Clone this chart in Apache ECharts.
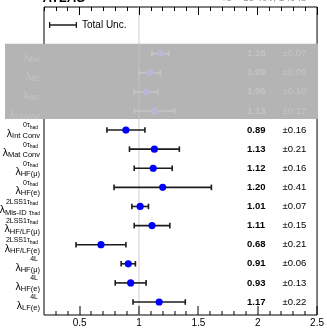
<!DOCTYPE html>
<html><head><meta charset="utf-8">
<script src="https://cdn.jsdelivr.net/npm/echarts@6/dist/echarts.min.js"></script>
<style>html,body{margin:0;padding:0;background:#fff}#c{width:327px;height:328px}</style>
</head><body><div id="c"></div><script>
// ---- data ----
const supMain = ['', '', '', '', '0τ', '0τ', '0τ', '0τ', '2LSS1τ', '2LSS1τ', '2LSS1τ', '4L', '4L', '4L'];
const supSub  = ['', '', '', '', 'had', 'had', 'had', 'had', 'had', 'had', 'had', '', '', ''];
const subMain = ['tt\u0304W', 'tt\u0304Z', 'WZ', 'ZZ/WW', 'Int Conv', 'Mat Conv', 'HF(μ)', 'HF(e)', 'Mis-ID τ', 'HF/LF(μ)', 'HF/LF(e)', 'HF(μ)', 'HF(e)', 'LF(e)'];
const subSub  = ['', '', '', '', '', '', '', '', 'had', '', '', '', '', ''];
const values  = [1.18, 1.09, 1.06, 1.13, 0.89, 1.13, 1.12, 1.20, 1.01, 1.11, 0.68, 0.91, 0.93, 1.17];
const errors  = [0.07, 0.09, 0.10, 0.17, 0.16, 0.21, 0.16, 0.41, 0.07, 0.15, 0.21, 0.06, 0.13, 0.22];
const fadedRows = 4;
const majorTicks = [0.5, 1, 1.5, 2, 2.5];
const minorTicks = [0.3, 0.4, 0.6, 0.7, 0.8, 0.9, 1.1, 1.2, 1.3, 1.4, 1.6, 1.7, 1.8, 1.9, 2.1, 2.2, 2.3, 2.4];
const legendName = 'Total Unc.';
const titleText = 'ATLAS';
const energyText = '√s = 13 TeV, 140 fb⁻¹';

// ---- layout constants ----
const FONT = 'Liberation Sans, Arial, Helvetica, sans-serif';
const X_MIN = 0.2, X_MAX = 2.5, Y_MIN = -0.68, Y_MAX = 15.44;
const VAL_X = 1.91, UNC_X = 2.21;
const nRows = values.length;
const rowPos = i => nRows - 1 - i;

function rows(from, to) {
  const out = [];
  for (let i = from; i < to; i++) out.push([values[i], errors[i], rowPos(i), i]);
  return out;
}

function makeRender(faded) {
  const barColor = faded ? '#c6c6c6' : '#1c1c1c';
  const dotColor = faded ? '#b8b8d4' : '#0000ff';
  const txtColor = faded ? '#c4c4c4' : '#000000';
  return function (params, api) {
    const v = api.value(0), e = api.value(1), r = api.value(2), i = api.value(3);
    const c = api.coord([v, r]);
    const lo = api.coord([v - e, r]);
    const hi = api.coord([v + e, r]);
    const left = api.coord([X_MIN, r])[0];
    const y = c[1];
    const ch = [
      { type: 'line', shape: { x1: lo[0], y1: y, x2: hi[0], y2: y }, style: { stroke: barColor, lineWidth: 1.6 } },
      { type: 'line', shape: { x1: lo[0], y1: y - 2.8, x2: lo[0], y2: y + 2.8 }, style: { stroke: barColor, lineWidth: 1.6 } },
      { type: 'line', shape: { x1: hi[0], y1: y - 2.8, x2: hi[0], y2: y + 2.8 }, style: { stroke: barColor, lineWidth: 1.6 } },
      { type: 'circle', shape: { cx: c[0], cy: y, r: 3.6 }, style: { fill: dotColor } },
      { type: 'text', x: api.coord([VAL_X, r])[0], y: y, style: { text: v.toFixed(2), fill: txtColor, font: 'bold 9.5px ' + FONT, align: 'left', verticalAlign: 'middle' } },
      { type: 'text', x: api.coord([UNC_X, r])[0], y: y, style: { text: '±' + e.toFixed(2), fill: txtColor, font: '9.5px ' + FONT, align: 'left', verticalAlign: 'middle' } }
    ];
    let subTxt = '{l|λ}{s|' + subMain[i] + '}';
    if (subSub[i]) subTxt += '{ss|' + subSub[i] + '}';
    ch.push({ type: 'text', x: left - 4, y: y + 4, style: {
      text: subTxt, align: 'right', verticalAlign: 'middle', fill: txtColor,
      rich: {
        l: { fontSize: 10.5, fontFamily: FONT, lineHeight: 12, verticalAlign: 'middle', fill: txtColor },
        s: { fontSize: 7.5, fontFamily: FONT, lineHeight: 8, verticalAlign: 'bottom', fill: txtColor },
        ss: { fontSize: 5, fontFamily: FONT, lineHeight: 5, verticalAlign: 'bottom', fill: txtColor }
      } } });
    if (supMain[i]) {
      let supTxt = '{a|' + supMain[i] + '}';
      if (supSub[i]) supTxt += '{b|' + supSub[i] + '}';
      ch.push({ type: 'text', x: left - 6, y: y - 4, style: {
        text: supTxt, align: 'right', verticalAlign: 'middle', fill: txtColor,
        rich: {
          a: { fontSize: 7, fontFamily: FONT, lineHeight: 8, verticalAlign: 'top', fill: txtColor },
          b: { fontSize: 5, fontFamily: FONT, lineHeight: 4, verticalAlign: 'bottom', fill: txtColor }
        } } });
    }
    return { type: 'group', children: ch };
  };
}

function renderOverlay(params, api) {
  const top = api.coord([X_MIN, rowPos(0) + 0.52])[1];
  const bot = api.coord([X_MIN, rowPos(fadedRows - 1) - 0.42])[1];
  const right = api.coord([X_MAX, 0])[0] + 1;
  const one = api.coord([1, 0])[0];
  return { type: 'group', children: [
    { type: 'rect', shape: { x: 5, y: top, width: right - 5, height: bot - top }, style: { fill: '#b4b4b4' } },
    { type: 'line', shape: { x1: one, y1: top, x2: one, y2: bot }, style: { stroke: '#c2c2c2', lineWidth: 1 } }
  ] };
}

// bottom ticks drawn through the x scale (pointing up into the frame)
function renderBottomTick(params, api) {
  const x = api.value(0), len = api.value(1);
  const p = api.coord([x, Y_MIN]);
  return { type: 'rect', shape: { x: Math.round(p[0]) - 0.5, y: p[1] - len, width: 1, height: len }, style: { fill: '#000' } };
}
const tickData = minorTicks.map(t => [t, 4]).concat(majorTicks.map(t => [t, 9]));

function xAxisDef(pos, ticks, len, labels) {
  const a = {
    type: 'value', position: pos, min: X_MIN, max: X_MAX, interval: 0.1, z: 4,
    axisLine: { show: false, onZero: false }, splitLine: { show: false },
    axisTick: { show: len > 0, inside: true, length: len, lineStyle: { color: '#000', width: 1 } },
    axisLabel: { show: false }
  };
  if (ticks) a.axisTick.customValues = ticks;
  if (labels) a.axisLabel = { show: true, customValues: labels, fontSize: 10, fontFamily: FONT, color: '#000', margin: 3 };
  return a;
}

const chart = echarts.init(document.getElementById('c'), null, { renderer: 'canvas' });
chart.setOption({
  animation: false,
  backgroundColor: '#fff',
  title: [
    { text: titleText, left: 43, top: -8, padding: 0, textStyle: { fontSize: 13, fontWeight: 'bold', fontStyle: 'italic', color: '#000', fontFamily: FONT } },
    { text: energyText, right: 14, top: -7, padding: 0, textStyle: { fontSize: 10, fontWeight: 'normal', color: '#9a9a9a', fontFamily: FONT } }
  ],
  legend: {
    data: [{ name: legendName, icon: 'path://M0,0H1.3V6H0Z M1.3,2.3H26.7V3.7H1.3Z M26.7,0H28V6H26.7Z' }],
    left: 49, top: 20, padding: 0, itemWidth: 28, itemHeight: 6, selectedMode: false,
    itemStyle: { color: '#1c1c1c', borderWidth: 0 },
    textStyle: { fontSize: 10, color: '#000', fontFamily: FONT }
  },
  grid: { left: 44, right: 5.5, top: 7, bottom: 11, show: true, borderColor: '#000', borderWidth: 1 },
  xAxis: [
    xAxisDef('bottom', null, 0, majorTicks),
    xAxisDef('top', null, 4, null),
    xAxisDef('top', majorTicks, 8, null)
  ],
  yAxis: { type: 'value', min: Y_MIN, max: Y_MAX, show: false, splitLine: { show: false }, axisLine: { onZero: false } },
  series: [
    { type: 'line', name: 'ref', data: [[1, Y_MIN], [1, Y_MAX]], symbol: 'none', silent: true, z: 1,
      lineStyle: { color: '#cfcfcf', width: 1 } },
    { type: 'custom', name: 'ticks', renderItem: renderBottomTick, data: tickData, encode: { x: 0, y: 1 }, z: 10, silent: true },
    { type: 'custom', name: legendName, renderItem: makeRender(false), data: rows(fadedRows, nRows), encode: { x: 0, y: 2 }, z: 3 },
    { type: 'custom', name: 'overlay', renderItem: renderOverlay, data: [[1, 0]], encode: { x: 0, y: 1 }, z: 5, silent: true },
    { type: 'custom', name: 'faded', renderItem: makeRender(true), data: rows(0, fadedRows), encode: { x: 0, y: 2 }, z: 6, silent: true }
  ]
});
</script></body></html>
